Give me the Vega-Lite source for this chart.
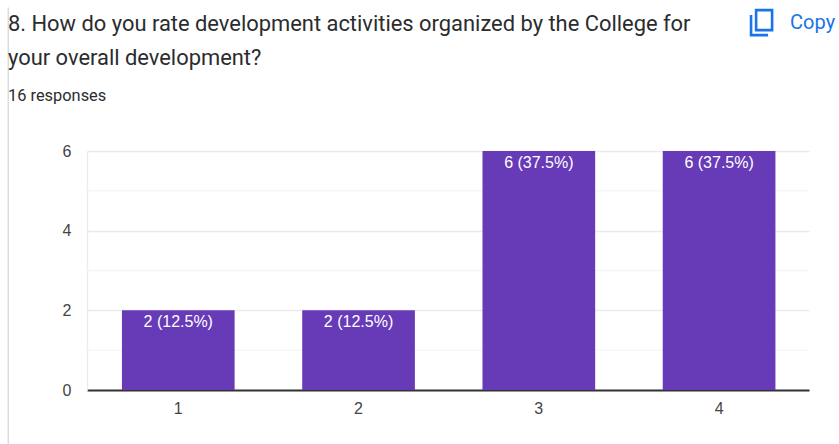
{
"$schema":"https://vega.github.io/schema/vega-lite/v6.json",
"width":722,"height":239,
"autosize":{"type":"none"},
"padding":{"left":87,"top":151,"right":30,"bottom":54},
"background":"white",
"config":{"view":{"stroke":null}},
"title":{"text":["8. How do you rate development activities organized by the College for","your overall development?"],
"subtitle":"16 responses","anchor":"start","frame":"group","dx":-79,"offset":-100,"font":"Roboto","fontSize":21.9,"fontWeight":400,"color":"#2b2c2e","lineHeight":34,
"subtitleFont":"Roboto","subtitleFontSize":16.4,"subtitleColor":"#2b2c2e","subtitlePadding":18},
"data":{"values":[
{"rating":"1","count":2,"label":"2 (12.5%)"},
{"rating":"2","count":2,"label":"2 (12.5%)"},
{"rating":"3","count":6,"label":"6 (37.5%)"},
{"rating":"4","count":6,"label":"6 (37.5%)"}]},
"encoding":{
"x":{"field":"rating","type":"ordinal","scale":{"paddingInner":0.375,"paddingOuter":0.19,"align":0.51},"axis":{"title":null,"labelAngle":0,"ticks":false,"labelFont":"Liberation Sans","labelFontSize":16,"labelColor":"#444444","labelPadding":10,"domainColor":"#333333","domainWidth":2,"grid":false}},
"y":{"field":"count","type":"quantitative","scale":{"domain":[0,6],"nice":false},"axis":{"title":null,"values":[0,2,4,6],"ticks":false,"labelFont":"Liberation Sans","labelFontSize":16,"labelColor":"#444444","labelPadding":16,"grid":true,"gridColor":"#ebebeb","gridWidth":1.3,"domain":true,"domainColor":"#ebebeb","domainWidth":1.3,"format":"d"}}
},
"layer":[
{"data":{"values":[{"m":1},{"m":3},{"m":5}]},"mark":{"type":"rule","color":"#f5f5f5","strokeWidth":1.3},"encoding":{"x":{},"y":{"field":"m","type":"quantitative"}}},
{"mark":{"type":"bar","color":"#673ab7"}},
{"mark":{"type":"text","color":"white","font":"Liberation Sans","fontSize":16,"baseline":"top","dy":4},"encoding":{"text":{"field":"label"}}},
{"data":{"values":[{"rating":"4","level":9.22,"name":"Copy"}]},"mark":{"type":"text","color":"#1a73e8","font":"Roboto","fontSize":20,"align":"left","dx":71,"clip":false},"encoding":{"y":{"field":"level","type":"quantitative"},"text":{"field":"name"}}},
{"data":{"values":[{"rating":"4","level":9.21}]},"mark":{"type":"point","filled":false,"stroke":"#1a73e8","strokeWidth":2.6,"opacity":1,"size":676,"xOffset":43,"clip":false,"shape":"M-0.46 -1 H0.77 V0.54 H-0.46 Z M-0.85 -0.62 V0.92 H0.46"},"encoding":{"y":{"field":"level","type":"quantitative"}}},
{"data":{"values":[{"rating":"1","top":9.6,"bottom":-1.4}]},"mark":{"type":"rule","color":"#dadce0","strokeWidth":1.5,"xOffset":-170,"clip":false},"encoding":{"y":{"field":"top","type":"quantitative"},"y2":{"field":"bottom"}}}
]
}
